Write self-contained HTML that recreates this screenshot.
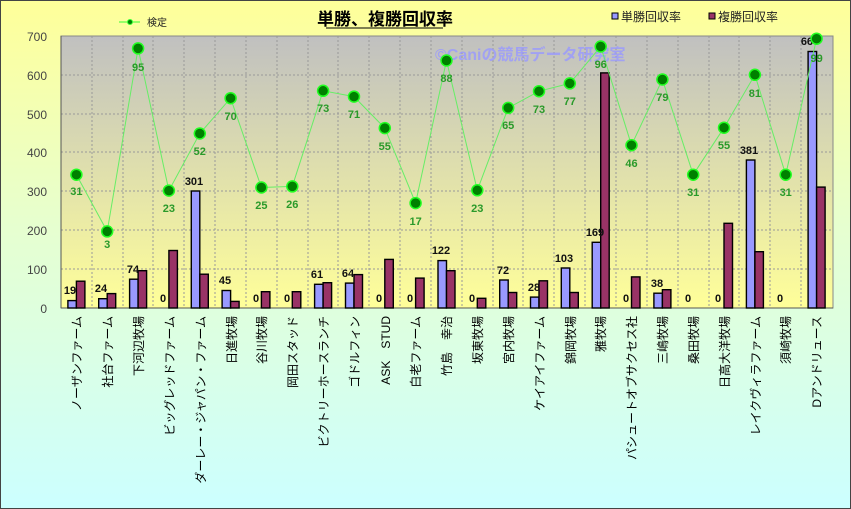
<!DOCTYPE html>
<html><head><meta charset="utf-8"><style>
html,body{margin:0;padding:0;background:#fff}
svg{display:block}
text{font-family:"Liberation Sans","Noto Sans CJK JP",sans-serif}
.n{font-size:11px;font-weight:bold;fill:#111;text-anchor:middle}
.g{font-size:11px;font-weight:bold;fill:#2a9a2a;text-anchor:middle}
.y{font-size:12px;fill:#444;text-anchor:end}
.c{font-size:12px;fill:#000;text-anchor:end}
</style></head><body>
<svg width="851" height="509" viewBox="0 0 851 509" xmlns="http://www.w3.org/2000/svg">
<defs>
<linearGradient id="bg" x1="0" y1="0" x2="0" y2="1"><stop offset="0" stop-color="#ffff99"/><stop offset="0.45" stop-color="#e6ffd0"/><stop offset="1" stop-color="#ccffff"/></linearGradient>
<linearGradient id="pa" x1="0" y1="0" x2="0" y2="1"><stop offset="0" stop-color="#c0c0c0"/><stop offset="1" stop-color="#ffff99"/></linearGradient>
</defs>
<rect x="0.5" y="0.5" width="850" height="508" fill="url(#bg)" stroke="#444"/>
<rect x="61" y="36" width="772" height="272" fill="url(#pa)" stroke="#888"/>
<g stroke="#999" stroke-dasharray="2,2" stroke-width="1">
<line x1="61" y1="75" x2="833" y2="75"/><line x1="61" y1="114" x2="833" y2="114"/><line x1="61" y1="152" x2="833" y2="152"/><line x1="61" y1="191" x2="833" y2="191"/><line x1="61" y1="230" x2="833" y2="230"/><line x1="61" y1="269" x2="833" y2="269"/>
<line x1="92" y1="36" x2="92" y2="308"/><line x1="123" y1="36" x2="123" y2="308"/><line x1="153" y1="36" x2="153" y2="308"/><line x1="184" y1="36" x2="184" y2="308"/><line x1="215" y1="36" x2="215" y2="308"/><line x1="246" y1="36" x2="246" y2="308"/><line x1="277" y1="36" x2="277" y2="308"/><line x1="308" y1="36" x2="308" y2="308"/><line x1="338" y1="36" x2="338" y2="308"/><line x1="369" y1="36" x2="369" y2="308"/><line x1="400" y1="36" x2="400" y2="308"/><line x1="431" y1="36" x2="431" y2="308"/><line x1="462" y1="36" x2="462" y2="308"/><line x1="493" y1="36" x2="493" y2="308"/><line x1="523" y1="36" x2="523" y2="308"/><line x1="554" y1="36" x2="554" y2="308"/><line x1="585" y1="36" x2="585" y2="308"/><line x1="616" y1="36" x2="616" y2="308"/><line x1="647" y1="36" x2="647" y2="308"/><line x1="678" y1="36" x2="678" y2="308"/><line x1="709" y1="36" x2="709" y2="308"/><line x1="739" y1="36" x2="739" y2="308"/><line x1="770" y1="36" x2="770" y2="308"/><line x1="801" y1="36" x2="801" y2="308"/>
</g>
<line x1="61" y1="36" x2="61" y2="308" stroke="#555"/><line x1="61" y1="308" x2="833" y2="308" stroke="#555"/>
<g class="y"><text x="47" y="41">700</text><text x="47" y="80">600</text><text x="47" y="119">500</text><text x="47" y="157">400</text><text x="47" y="196">300</text><text x="47" y="235">200</text><text x="47" y="274">100</text><text x="47" y="313">0</text></g>
<text x="435" y="60" font-size="16" font-weight="bold" fill="#9999ff" fill-opacity="0.8">©Caniの競馬データ研究室</text>
<g stroke="#000" stroke-width="1.4">
<g fill="#9999ff">
<rect x="67.9" y="300.6" width="8.5" height="7.4"/><rect x="98.7" y="298.7" width="8.5" height="9.3"/><rect x="129.6" y="279.2" width="8.5" height="28.8"/><rect x="191.3" y="191" width="8.5" height="117"/><rect x="222.1" y="290.5" width="8.5" height="17.5"/><rect x="314.6" y="284.3" width="8.5" height="23.7"/><rect x="345.5" y="283.1" width="8.5" height="24.9"/><rect x="438" y="260.6" width="8.5" height="47.4"/><rect x="499.7" y="280" width="8.5" height="28"/><rect x="530.5" y="297.1" width="8.5" height="10.9"/><rect x="561.3" y="268" width="8.5" height="40"/><rect x="592.2" y="242.3" width="8.5" height="65.7"/><rect x="653.9" y="293.2" width="8.5" height="14.8"/><rect x="746.4" y="160" width="8.5" height="148"/><rect x="808.1" y="51.5" width="8.5" height="256.5"/>
</g>
<g fill="#993366">
<rect x="76.4" y="281.2" width="8.5" height="26.8"/><rect x="107.2" y="293.6" width="8.5" height="14.4"/><rect x="138.1" y="270.7" width="8.5" height="37.3"/><rect x="168.9" y="250.5" width="8.5" height="57.5"/><rect x="199.8" y="274.2" width="8.5" height="33.8"/><rect x="230.6" y="301.4" width="8.5" height="6.6"/><rect x="261.4" y="291.7" width="8.5" height="16.3"/><rect x="292.3" y="291.7" width="8.5" height="16.3"/><rect x="323.1" y="282.7" width="8.5" height="25.3"/><rect x="354" y="274.6" width="8.5" height="33.4"/><rect x="384.8" y="259.4" width="8.5" height="48.6"/><rect x="415.6" y="278.1" width="8.5" height="29.9"/><rect x="446.5" y="270.7" width="8.5" height="37.3"/><rect x="477.3" y="298.3" width="8.5" height="9.7"/><rect x="508.2" y="292.5" width="8.5" height="15.5"/><rect x="539" y="280.8" width="8.5" height="27.2"/><rect x="569.8" y="292.5" width="8.5" height="15.5"/><rect x="600.7" y="72.9" width="8.5" height="235.1"/><rect x="631.5" y="276.9" width="8.5" height="31.1"/><rect x="662.4" y="289.7" width="8.5" height="18.3"/><rect x="724" y="223.3" width="8.5" height="84.7"/><rect x="754.9" y="251.7" width="8.5" height="56.3"/><rect x="816.6" y="187.1" width="8.5" height="120.9"/>
</g></g>
<g class="n">
<text x="70" y="294">19</text><text x="101" y="292">24</text><text x="133" y="273">74</text><text x="163" y="302">0</text><text x="194" y="185">301</text><text x="225" y="284">45</text><text x="256" y="302">0</text><text x="287" y="302">0</text><text x="317" y="278">61</text><text x="348" y="277">64</text><text x="379" y="302">0</text><text x="410" y="302">0</text><text x="441" y="254">122</text><text x="472" y="302">0</text><text x="503" y="274">72</text><text x="534" y="291">28</text><text x="564" y="262">103</text><text x="595" y="236">169</text><text x="626" y="302">0</text><text x="657" y="287">38</text><text x="688" y="302">0</text><text x="718" y="302">0</text><text x="749" y="154">381</text><text x="780" y="302">0</text><text x="810" y="45">660</text>
</g>
<polyline fill="none" stroke="#66ee66" stroke-width="1" points="76.4,174.7 107.2,231.4 138.1,48.4 168.9,190.6 199.8,133.5 230.6,98.2 261.4,187.5 292.3,186.4 323.1,90.8 354,96.6 384.8,128.1 415.6,203.1 446.5,60.5 477.3,190.3 508.2,107.9 539,91.2 569.8,83.4 600.7,46.5 631.5,145.2 662.4,79.5 693.2,174.7 724,127.7 754.9,74.8 785.7,174.7 816.6,38.7"/>
<g fill="#008000" stroke="#22ff22" stroke-width="1.5">
<circle cx="76.4" cy="174.7" r="5.5"/><circle cx="107.2" cy="231.4" r="5.5"/><circle cx="138.1" cy="48.4" r="5.5"/><circle cx="168.9" cy="190.6" r="5.5"/><circle cx="199.8" cy="133.5" r="5.5"/><circle cx="230.6" cy="98.2" r="5.5"/><circle cx="261.4" cy="187.5" r="5.5"/><circle cx="292.3" cy="186.4" r="5.5"/><circle cx="323.1" cy="90.8" r="5.5"/><circle cx="354" cy="96.6" r="5.5"/><circle cx="384.8" cy="128.1" r="5.5"/><circle cx="415.6" cy="203.1" r="5.5"/><circle cx="446.5" cy="60.5" r="5.5"/><circle cx="477.3" cy="190.3" r="5.5"/><circle cx="508.2" cy="107.9" r="5.5"/><circle cx="539" cy="91.2" r="5.5"/><circle cx="569.8" cy="83.4" r="5.5"/><circle cx="600.7" cy="46.5" r="5.5"/><circle cx="631.5" cy="145.2" r="5.5"/><circle cx="662.4" cy="79.5" r="5.5"/><circle cx="693.2" cy="174.7" r="5.5"/><circle cx="724" cy="127.7" r="5.5"/><circle cx="754.9" cy="74.8" r="5.5"/><circle cx="785.7" cy="174.7" r="5.5"/><circle cx="816.6" cy="38.7" r="5.5"/>
</g>
<g class="g">
<text x="76.4" y="195">31</text><text x="107.2" y="248">3</text><text x="138.1" y="71">95</text><text x="168.9" y="212">23</text><text x="199.8" y="155">52</text><text x="230.6" y="120">70</text><text x="261.4" y="209">25</text><text x="292.3" y="208">26</text><text x="323.1" y="112">73</text><text x="354" y="118">71</text><text x="384.8" y="150">55</text><text x="415.6" y="225">17</text><text x="446.5" y="82">88</text><text x="477.3" y="212">23</text><text x="508.2" y="129">65</text><text x="539" y="113">73</text><text x="569.8" y="105">77</text><text x="600.7" y="68">96</text><text x="631.5" y="167">46</text><text x="662.4" y="101">79</text><text x="693.2" y="196">31</text><text x="724" y="149">55</text><text x="754.9" y="97">81</text><text x="785.7" y="196">31</text><text x="816.6" y="62">99</text>
</g>
<g class="c">
<text transform="translate(81,316) rotate(-90)">ノーザンファーム</text>
<text transform="translate(112,316) rotate(-90)">社台ファーム</text>
<text transform="translate(143,316) rotate(-90)">下河辺牧場</text>
<text transform="translate(174,316) rotate(-90)">ビッグレッドファーム</text>
<text transform="translate(205,316) rotate(-90)">ダーレー・ジャパン・ファーム</text>
<text transform="translate(236,316) rotate(-90)">日進牧場</text>
<text transform="translate(266,316) rotate(-90)">谷川牧場</text>
<text transform="translate(297,316) rotate(-90)">岡田スタッド</text>
<text transform="translate(328,316) rotate(-90)">ビクトリーホースランチ</text>
<text transform="translate(359,316) rotate(-90)">ゴドルフィン</text>
<text transform="translate(390,316) rotate(-90)">ASK　STUD</text>
<text transform="translate(420,316) rotate(-90)">白老ファーム</text>
<text transform="translate(451,316) rotate(-90)">竹島　幸治</text>
<text transform="translate(482,316) rotate(-90)">坂東牧場</text>
<text transform="translate(513,316) rotate(-90)">宮内牧場</text>
<text transform="translate(544,316) rotate(-90)">ケイアイファーム</text>
<text transform="translate(575,316) rotate(-90)">錦岡牧場</text>
<text transform="translate(605,316) rotate(-90)">雅牧場</text>
<text transform="translate(636,316) rotate(-90)">パシュートオブサクセス社</text>
<text transform="translate(667,316) rotate(-90)">三嶋牧場</text>
<text transform="translate(698,316) rotate(-90)">桑田牧場</text>
<text transform="translate(729,316) rotate(-90)">日高大洋牧場</text>
<text transform="translate(760,316) rotate(-90)">レイクヴィラファーム</text>
<text transform="translate(790,316) rotate(-90)">須崎牧場</text>
<text transform="translate(821,316) rotate(-90)">Dアンドリュース</text>
</g>
<line x1="119" y1="22" x2="140" y2="22" stroke="#33ff33"/><circle cx="130" cy="22" r="2.5" fill="#008000" stroke="#33ff33"/>
<text x="147" y="26" font-size="10" fill="#222">検定</text>
<text x="385" y="25" font-size="17" font-weight="bold" text-anchor="middle" fill="#000">単勝、複勝回収率</text>
<line x1="326" y1="28" x2="443" y2="28" stroke="#000" stroke-width="1"/>
<rect x="612" y="13" width="6" height="6" fill="#9999ff" stroke="#000"/>
<text x="621" y="21" font-size="12" fill="#222">単勝回収率</text>
<rect x="709" y="13" width="6" height="6" fill="#993366" stroke="#000"/>
<text x="718" y="21" font-size="12" fill="#222">複勝回収率</text>
</svg>
</body></html>
